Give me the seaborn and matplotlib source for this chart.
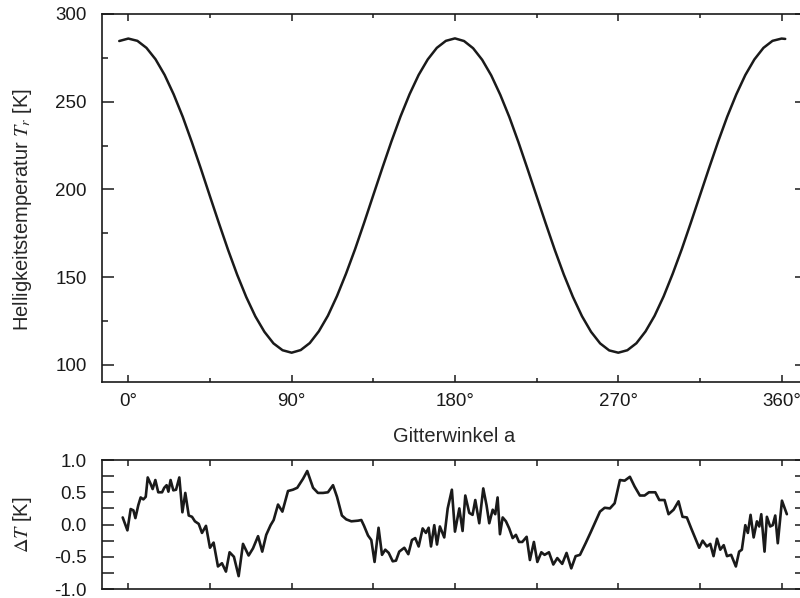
import matplotlib
matplotlib.use("Agg")
import matplotlib.pyplot as plt
from matplotlib.ticker import MultipleLocator, FuncFormatter, NullFormatter
import numpy as np
import pandas as pd
import seaborn as sns

# Brightness temperature versus grid angle
angle_deg = [-5, 0, 5, 10, 15, 20, 25, 30, 35, 40, 45, 50, 55, 60, 65, 70, 75, 80, 85,
             90, 95, 100, 105, 110, 115, 120, 125, 130, 135, 140, 145, 150, 155, 160,
             165, 170, 175, 180, 185, 190, 195, 200, 205, 210, 215, 220, 225, 230, 235,
             240, 245, 250, 255, 260, 265, 270, 275, 280, 285, 290, 295, 300, 305, 310,
             315, 320, 325, 330, 335, 340, 345, 350, 355, 360, 362]
t_bright = [284.6, 286.0, 284.7, 280.7, 274.2, 265.3, 254.2, 241.4, 227.0, 211.8, 196.1,
            180.6, 165.5, 151.4, 138.7, 127.7, 118.9, 112.3, 108.4, 107.0, 108.5, 112.5,
            119.2, 128.1, 139.3, 152.1, 166.1, 181.2, 196.8, 212.3, 227.4, 241.6, 254.3,
            265.3, 274.1, 280.7, 284.7, 286.1, 284.6, 280.5, 273.9, 265.0, 253.9, 241.2,
            226.9, 211.7, 196.2, 180.7, 165.6, 151.5, 138.8, 127.8, 118.9, 112.3, 108.3,
            107.0, 108.4, 112.4, 119.1, 128.0, 139.1, 152.0, 166.0, 181.1, 196.6, 212.1,
            227.2, 241.4, 254.1, 265.2, 274.1, 280.7, 284.7, 286.0, 285.8]

# Fit residuals
res_angle = [-3.1, -0.5, 1.3, 2.8, 3.9, 5.5, 6.8, 8.3, 9.6, 10.7, 12.3, 13.4, 14.9, 16.5,
             18.6, 19.8, 21.1, 22.1, 23.3, 24.8, 26.3, 28.1, 29.8, 31.4, 33.3, 35.1, 36.7,
             38.8, 40.6, 42.8, 45.0, 47.0, 49.4, 51.6, 53.8, 55.8, 58.2, 60.8, 63.2, 66.3,
             68.7, 71.5, 73.8, 76.0, 78.4, 80.1, 82.5, 84.9, 88.0, 90.7, 93.1, 96.3, 98.6,
             101.8, 104.5, 107.3, 110.0, 112.8, 115.0, 117.7, 120.1, 122.9, 126.6, 128.4,
             129.9, 132.1, 133.9, 135.7, 137.9, 139.8, 141.6, 143.5, 145.7, 147.5, 149.3,
             152.1, 154.3, 156.3, 158.1, 160.0, 162.2, 164.0, 165.5, 166.8, 168.6, 170.1,
             171.7, 174.1, 176.0, 178.3, 180.0, 182.4, 184.2, 185.7, 187.9, 189.7, 191.2,
             193.4, 195.6, 197.4, 198.9, 200.8, 202.2, 203.5, 204.8, 206.3, 208.1, 209.9,
             211.8, 213.6, 215.3, 217.1, 219.5, 221.3, 223.5, 225.4, 227.6, 229.4, 231.8,
             234.2, 236.4, 239.1, 241.5, 244.1, 246.5, 248.9, 252.0, 254.8, 257.5, 259.9,
             262.5, 265.4, 268.0, 270.9, 273.5, 276.4, 279.0, 281.9, 284.5, 286.9, 290.4,
             292.6, 295.5, 297.7, 300.5, 303.2, 305.4, 307.8, 310.2, 312.4, 314.6, 316.5,
             318.8, 320.7, 322.5, 324.4, 326.2, 328.1, 329.9, 332.2, 334.8, 336.6, 338.1,
             340.0, 341.4, 342.9, 344.6, 346.4, 347.7, 348.8, 350.6, 351.9, 353.7, 355.1,
             356.5, 357.9, 360.2, 362.9]
res_dt = [0.11, -0.09, 0.24, 0.22, 0.10, 0.30, 0.42, 0.39, 0.43, 0.73, 0.63, 0.55, 0.69,
          0.50, 0.50, 0.57, 0.61, 0.51, 0.69, 0.53, 0.54, 0.73, 0.19, 0.49, 0.14, 0.12,
          0.05, 0.01, -0.13, -0.02, -0.36, -0.28, -0.65, -0.60, -0.73, -0.43, -0.50, -0.80,
          -0.30, -0.48, -0.37, -0.18, -0.42, -0.16, -0.01, 0.07, 0.31, 0.20, 0.52, 0.54,
          0.57, 0.71, 0.83, 0.57, 0.49, 0.49, 0.50, 0.61, 0.43, 0.14, 0.08, 0.05, 0.06,
          0.07, -0.02, -0.17, -0.24, -0.58, -0.05, -0.47, -0.39, -0.44, -0.57, -0.56,
          -0.42, -0.36, -0.46, -0.24, -0.21, -0.34, -0.06, -0.13, -0.05, -0.34, -0.01,
          -0.31, -0.03, -0.20, 0.25, 0.54, -0.11, 0.25, -0.10, 0.45, 0.18, 0.15, 0.38,
          0.02, 0.56, 0.30, 0.02, 0.23, 0.16, 0.42, -0.15, 0.11, 0.05, -0.06, -0.21,
          -0.16, -0.27, -0.27, -0.19, -0.55, -0.27, -0.58, -0.43, -0.47, -0.43, -0.62,
          -0.52, -0.61, -0.44, -0.68, -0.49, -0.47, -0.29, -0.12, 0.05, 0.20, 0.26, 0.25,
          0.33, 0.69, 0.68, 0.74, 0.59, 0.45, 0.45, 0.50, 0.50, 0.38, 0.38, 0.16, 0.23,
          0.36, 0.12, 0.11, -0.06, -0.21, -0.36, -0.25, -0.34, -0.30, -0.49, -0.22, -0.39,
          -0.32, -0.49, -0.47, -0.65, -0.42, -0.39, -0.01, -0.13, 0.15, -0.20, 0.05, -0.03,
          0.16, -0.42, 0.12, -0.03, -0.01, 0.14, -0.29, 0.37, 0.16]

main_df = pd.DataFrame({"angle": angle_deg, "T": t_bright})
res_df = pd.DataFrame({"angle": res_angle, "dT": res_dt})

sns.set_theme(style="ticks")
plt.rcParams["font.family"] = ["Liberation Sans", "DejaVu Sans"]
plt.rcParams["mathtext.fontset"] = "stix"
plt.rcParams["axes.unicode_minus"] = False
plt.rcParams["axes.linewidth"] = 1.2

INK = "#1a1a1a"
FS = 13.5
LABEL_FS = 14.5

fig = plt.figure(figsize=(8, 5.98), dpi=100)
ax1 = fig.add_axes([0.1275, 0.3612, 0.88125, 0.6154])
ax2 = fig.add_axes([0.1275, 0.015, 0.88125, 0.2157])

sns.lineplot(data=main_df, x="angle", y="T", ax=ax1, color=INK, linewidth=1.8,
             sort=False, estimator=None)
sns.lineplot(data=res_df, x="angle", y="dT", ax=ax2, color=INK, linewidth=1.9,
             sort=False, estimator=None)

deg_fmt = FuncFormatter(lambda v, p: f"{int(round(v))}°")

for ax in (ax1, ax2):
    ax.set_xlim(-14.5, 374)
    for s in ax.spines.values():
        s.set_color(INK)
        s.set_linewidth(1.2)
    ax.tick_params(which="both", direction="in", top=True, right=True,
                   colors=INK, width=1.1, labelsize=FS)

# Upper panel
ax1.set_ylim(90.3, 300)
ax1.xaxis.set_major_locator(MultipleLocator(90))
ax1.xaxis.set_minor_locator(MultipleLocator(45))
ax1.xaxis.set_major_formatter(deg_fmt)
ax1.yaxis.set_major_locator(MultipleLocator(50))
ax1.yaxis.set_minor_locator(MultipleLocator(25))
ax1.tick_params(axis="x", which="major", length=5.2, pad=8)
ax1.tick_params(axis="x", which="minor", length=2.6)
ax1.tick_params(axis="y", which="major", length=8.6, pad=11)
ax1.tick_params(axis="y", which="minor", length=4.3)
ax1.set_xlabel("Gitterwinkel a", fontsize=LABEL_FS)
ax1.xaxis.set_label_coords(0.5, -0.123)
ax1.set_ylabel("Helligkeitstemperatur $T_r$ [K]", fontsize=LABEL_FS)
ax1.yaxis.set_label_coords(-0.097, 0.47)

# Lower panel
ax2.set_ylim(-1.0, 1.0)
ax2.xaxis.set_major_locator(MultipleLocator(45))
ax2.xaxis.set_major_formatter(NullFormatter())
ax2.yaxis.set_major_locator(MultipleLocator(0.5))
ax2.yaxis.set_minor_locator(MultipleLocator(0.25))
ax2.yaxis.set_major_formatter(FuncFormatter(lambda v, p: f"{v:.1f}"))
ax2.tick_params(axis="x", which="major", length=4.3)
ax2.tick_params(axis="y", which="both", length=8.6, pad=11)
ax2.set_xlabel("")
ax2.set_ylabel(r"$\Delta T$ [K]", fontsize=LABEL_FS)
ax2.yaxis.set_label_coords(-0.097, 0.5)

fig.savefig("out.png", dpi=100)
